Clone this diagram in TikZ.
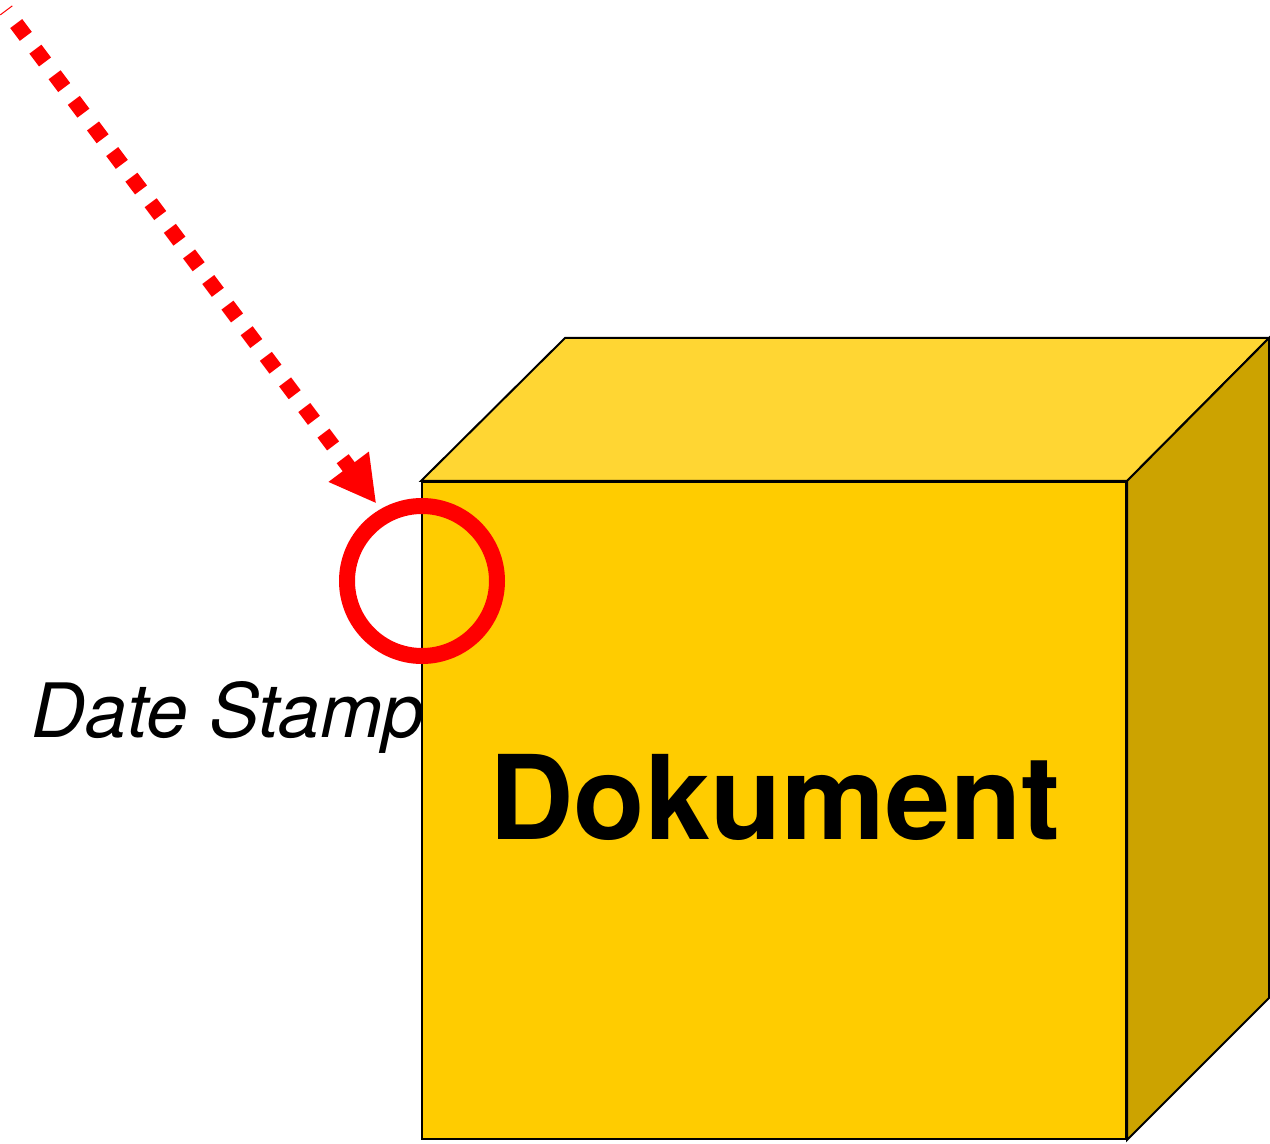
\documentclass[tikz,border=0pt]{standalone}
\usepackage{fontspec}
\newfontfamily\helv{TeX Gyre Heros}
\usepackage{tikz}
\usetikzlibrary{arrows.meta}

\definecolor{frontyellow}{HTML}{FFCC00}
\definecolor{topyellow}{HTML}{FFD633}
\definecolor{sideyellow}{HTML}{CCA300}

\begin{document}
\begin{tikzpicture}[x=0.5pt,y=-0.5pt,line join=miter,
  face/.style={draw=black,line width=1pt},
  front face/.style={face,fill=frontyellow,rectangle,inner sep=0pt,minimum width=352pt,minimum height=328.5pt},
  stamp ring/.style={circle,draw=red,line width=8pt,minimum size=75pt,inner sep=0pt},
  stamp arrow/.style={red,line width=7.5pt,dash pattern=on 8pt off 8pt,dash phase=7.5pt,
    -{Triangle[length=23pt,width=23.5pt]},shorten >=3.5pt}]
  \useasboundingbox (0,0) rectangle (1270,1144);

  \node[font=\helv\itshape\fontsize{37.5}{40}\selectfont,anchor=base] (label) at (228,737) {Date Stamp};

  % cube
  \node[front face] (front) at (774,810.5) {};
  \coordinate (back nw) at ([shift={(144,-143)}]front.north west);
  \coordinate (back ne) at ([shift={(142,-143)}]front.north east);
  \coordinate (back se) at ([shift={(142,-142)}]front.south east);
  \draw[face,fill=topyellow] (front.north west) -- (back nw) -- (back ne) -- (front.north east) -- cycle;
  \draw[face,fill=sideyellow] (front.north east) -- (back ne) -- (back se) -- (front.south east) -- cycle;
  \node[font=\helv\bfseries\fontsize{58.4}{62}\selectfont] (title) at (775,797) {Dokument};

  \node[stamp ring] (stamp) at (422,581) {};
  \coordinate (tail) at (6,10);
  \draw[stamp arrow] (tail) -- (stamp.120);

\end{tikzpicture}
\end{document}
